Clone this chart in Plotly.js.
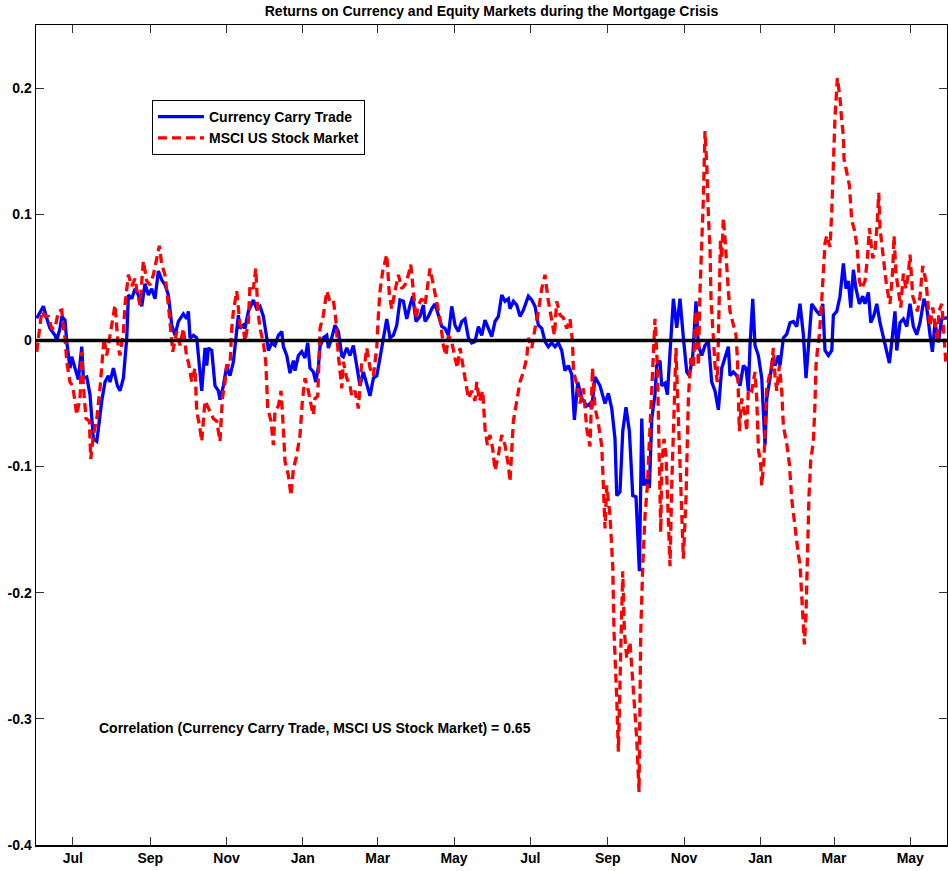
<!DOCTYPE html>
<html>
<head>
<meta charset="utf-8">
<script src="https://cdn.plot.ly/plotly-3.0.1.min.js"></script>
<style>html,body{margin:0;padding:0;background:#fff}#chart{width:948px;height:871px}</style>
</head>
<body>
<div id="chart"></div>
<script>
// Day offsets counted from 2007-07-01, and returns
const carryDay = [-28.8,-23.5,-20.8,-18.2,-14.2,-12.8,-10.2,-8.8,-6.2,-4.8,-2.2,-0.8,1.8,4.5,7.2,8.5,11.2,13.8,16.5,19.2,20.5,23.2,25.8,28.5,29.8,32.5,35.7,37.8,40.5,43.2,44.5,47.2,49.8,52.5,55.2,57.8,60.5,63.2,65.8,68.5,71.2,73.8,76.5,79.2,81.8,84.5,88.5,91.2,92.5,93.8,96.5,99.2,103.2,105.8,107.2,108.5,111.2,113.8,116.5,117.8,120.5,123.2,124.5,125.8,128.5,131.2,132.5,133.8,136.5,137.8,140.5,144.5,147.2,149.8,152.5,155.2,156.5,159.2,161.8,164.5,167.2,168.5,171.2,173.8,176.5,177.8,180.5,183.2,185.8,188.0,189.8,192.5,194.4,196.5,197.8,200.5,203.2,204.5,207.2,209.8,212.5,215.2,216.5,219.2,221.8,224.5,227.2,229.8,232.5,235.2,237.8,240.5,243.2,245.8,248.5,251.2,253.8,256.5,259.2,261.8,264.5,267.2,269.8,272.0,274.6,277.8,280.5,281.8,284.5,287.2,289.8,292.5,295.2,297.8,300.5,303.2,305.8,308.5,311.2,313.8,316.5,319.2,321.8,324.5,327.2,329.8,332.5,335.2,337.8,340.5,343.2,345.8,348.5,349.8,352.5,355.2,357.8,360.5,364.5,367.2,369.8,372.5,375.2,377.8,380.5,383.2,385.8,388.5,391.2,393.8,396.5,399.2,401.3,404.0,407.2,411.2,413.8,415.2,417.8,421.8,425.8,428.5,431.2,433.8,435.2,437.8,440.0,442.6,445.3,448.0,450.6,453.3,455.2,457.0,459.2,461.3,463.2,465.8,467.2,469.8,471.2,473.8,475.7,477.8,480.5,483.2,485.8,488.5,491.2,493.3,496.0,498.6,500.5,503.2,505.8,508.5,511.2,513.8,516.5,519.2,521.8,524.5,525.8,528.5,531.2,533.8,536.5,538.6,540.5,541.8,544.0,545.8,548.5,551.2,553.8,555.2,557.8,560.0,561.8,564.5,565.8,568.5,571.2,573.8,576.5,579.2,581.8,584.5,586.6,588.5,591.2,595.2,597.8,600.0,601.8,604.5,607.2,608.5,611.2,613.8,616.5,618.6,620.5,622.4,624.5,626.6,629.3,632.0,633.8,636.5,638.4,641.0,643.2,645.8,648.5,651.2,653.3,655.2,657.8,659.2,661.8,664.5,667.2,669.8,672.5,675.2,677.8,681.0,683.2,685.8,687.7,689.8,692.5,695.2,697.8,699.4];
const carryRet = [0.0175,0.027,0.0175,0.0095,0.004,0.000,0.0095,0.019,0.016,-0.001,-0.022,-0.013,-0.022,-0.031,-0.005,-0.030,-0.029,-0.043,-0.078,-0.080,-0.070,-0.048,-0.033,-0.028,-0.033,-0.022,-0.036,-0.040,-0.030,0.0016,0.036,0.033,0.041,0.036,0.027,0.045,0.036,0.041,0.033,0.055,0.048,0.044,0.036,0.012,0.004,0.015,0.021,0.017,0.023,0.002,0.004,0.002,-0.040,-0.006,-0.020,-0.006,-0.008,-0.036,-0.040,-0.047,-0.036,-0.020,-0.025,-0.028,-0.017,0.0095,0.020,0.0095,0.012,0.0095,0.023,0.032,0.025,0.027,0.019,0.002,-0.008,-0.002,-0.004,0.004,0.007,-0.005,-0.012,-0.026,-0.016,-0.024,-0.012,-0.009,-0.014,-0.002,-0.022,-0.025,-0.033,-0.021,-0.005,0.002,0.004,-0.006,0.002,0.012,0.007,-0.012,-0.013,-0.006,-0.012,-0.004,-0.020,-0.036,-0.025,-0.036,-0.044,-0.030,-0.028,-0.014,0.002,0.017,0.002,0.004,0.012,0.032,0.031,0.017,0.028,0.035,0.015,0.019,0.028,0.015,0.019,0.025,0.029,0.020,0.011,0.0095,0.004,0.027,0.012,0.007,0.015,0.017,0.002,-0.002,-0.001,0.011,0.004,0.016,0.0095,0.003,0.015,0.019,0.036,0.031,0.033,0.025,0.031,0.028,0.019,0.024,0.035,0.032,0.027,0.012,0.0095,-0.001,-0.005,-0.002,-0.005,-0.002,-0.008,-0.024,-0.020,-0.027,-0.063,-0.033,-0.046,-0.052,-0.050,-0.054,-0.029,-0.036,-0.050,-0.042,-0.054,-0.078,-0.123,-0.120,-0.072,-0.053,-0.072,-0.123,-0.124,-0.183,-0.062,-0.115,-0.110,-0.117,-0.062,-0.043,-0.020,-0.016,-0.036,-0.034,-0.043,-0.009,0.033,0.010,0.033,0.002,-0.025,-0.028,-0.012,0.031,-0.004,-0.012,-0.004,-0.001,-0.033,-0.040,-0.055,-0.022,-0.014,-0.005,-0.028,-0.025,-0.028,-0.036,-0.020,-0.022,-0.040,-0.004,0.033,-0.004,-0.012,-0.030,-0.083,-0.046,-0.030,-0.014,-0.020,-0.012,-0.020,0.002,0.005,0.014,0.015,0.011,0.029,0.0045,-0.030,-0.008,0.029,0.023,0.020,0.029,-0.008,-0.012,-0.008,0.020,0.023,0.035,0.061,0.041,0.047,0.026,0.056,0.041,0.029,0.035,0.029,0.038,0.014,0.020,0.029,0.014,0.0015,-0.008,-0.018,-0.0015,0.023,-0.008,0.014,0.017,0.011,0.029,0.011,0.0045,0.014,0.033,0.026,0.0045,-0.009,0.014,-0.0015,0.017,0.018,0.018];

const msciDay = [-28.8,-26.2,-24.8,-22.2,-19.5,-16.8,-14.2,-11.5,-8.8,-7.5,-6.2,-4.8,-2.2,0,1.8,3.2,5.8,7.2,8.5,10.6,13.3,14.4,16.5,19.2,21.8,23.2,25.0,27.2,29.8,32.5,33.8,36.5,37.8,40.5,41.8,44.5,47.2,49.8,51.2,53.8,56.5,59.2,61.8,64.5,67.2,69.3,71.2,73.8,76.5,77.8,80.0,83.2,85.8,88.5,91.2,92.5,95.2,97.8,99.2,101.8,103.2,105.8,108.5,112.5,115.2,117.8,119.7,121.8,123.2,125.8,127.2,128.5,131.2,133.8,136.5,137.8,140.5,141.8,144.5,146.4,148.0,149.8,152.5,154.4,156.0,158.6,160.5,161.8,164.5,166.6,168.5,169.8,172.5,174.6,176.5,179.2,181.8,183.7,185.8,188.5,191.2,192.5,193.8,196.0,197.8,200.5,203.2,205.8,208.5,210.4,212.5,215.2,216.5,219.2,221.8,223.2,225.8,228.5,231.2,233.8,235.2,237.8,240.5,243.2,244.5,245.8,248.0,251.2,253.3,255.2,257.8,260.5,263.2,265.8,268.5,270.4,272.5,274.6,276.5,279.2,281.8,283.7,285.8,288.5,291.2,293.8,296.5,298.6,300.5,303.2,305.8,307.7,309.8,312.5,315.2,316.5,319.2,321.8,323.2,325.3,328.0,329.8,331.7,333.8,336.0,337.8,340.5,343.2,345.8,348.5,349.8,352.5,355.2,357.8,360.5,363.2,364.5,367.2,369.8,372.5,375.2,377.8,380.5,383.2,385.3,387.2,389.8,392.5,395.2,397.8,399.8,400.6,403.2,405.8,408.5,411.2,413.8,415.8,417.8,420.5,423.2,424.5,425.8,427.2,429.8,432.0,433.0,435.2,436.5,437.8,440.0,441.3,443.2,445.8,448.0,451.2,453.0,454.4,456.0,457.8,459.7,461.8,464.0,465.8,467.7,469.0,470.4,471.2,473.0,474.6,476.5,477.8,479.2,480.5,482.6,483.7,485.8,487.2,488.5,490.6,492.5,494.4,496.5,498.6,500.5,501.8,503.2,504.5,505.8,507.2,508.5,509.8,510.6,512.0,513.8,515.7,517.3,518.2,519.2,520.5,521.8,523.2,524.5,525.8,528.5,530.6,531.7,532.5,533.3,535.2,537.8,539.2,540.5,543.2,545.8,547.2,548.5,550.4,551.2,553.0,555.2,557.3,559.2,560.5,561.8,563.2,565.3,567.2,568.5,571.2,573.3,575.2,577.8,580.5,581.8,583.2,585.3,586.6,587.7,589.0,590.4,592.5,593.8,594.6,595.7,597.3,599.2,600.5,601.8,603.2,605.8,607.2,608.5,609.8,611.7,613.8,615.2,616.5,617.0,619.2,621.3,623.2,625.8,627.7,629.3,631.2,633.8,635.7,637.3,640.0,641.8,643.7,644.8,645.8,648.5,650.6,652.5,653.8,656.0,657.0,658.6,660.5,662.4,664.5,666.6,668.5,669.8,672.0,673.8,675.7,677.8,680.0,682.6,684.5,685.8,688.0,689.8,691.7,692.9,695.2,696.5,698.6];
const msciRet = [-0.009,0.0095,0.023,0.019,0.019,0.0095,0.0095,0.023,0.024,0.0095,0.002,-0.017,-0.033,-0.036,-0.048,-0.059,-0.046,-0.009,-0.036,-0.062,-0.064,-0.094,-0.075,-0.062,-0.038,-0.020,0.002,-0.012,0.004,0.017,0.028,-0.006,-0.012,0.007,0.028,0.052,0.043,0.049,0.040,0.028,0.063,0.047,0.044,0.052,0.065,0.075,0.060,0.052,0.028,0.015,-0.009,0.007,-0.004,0.0095,-0.014,-0.017,-0.033,-0.022,-0.056,-0.070,-0.080,-0.048,-0.054,-0.062,-0.064,-0.080,-0.046,-0.033,-0.020,-0.020,0.0095,0.023,0.039,0.012,0.0095,-0.001,0.015,0.044,0.041,0.057,0.025,0.0095,-0.002,-0.017,-0.054,-0.064,-0.083,-0.056,-0.052,-0.040,-0.070,-0.096,-0.107,-0.123,-0.102,-0.091,-0.075,-0.048,-0.030,-0.040,-0.054,-0.059,-0.046,-0.044,0.0095,0.020,0.039,0.031,0.032,0.017,-0.012,-0.038,-0.017,-0.030,-0.036,-0.044,-0.040,-0.054,-0.017,-0.017,-0.006,-0.022,-0.028,-0.006,0.020,0.039,0.055,0.068,0.036,0.025,0.039,0.052,0.041,0.044,0.052,0.060,0.039,0.017,0.028,0.033,0.028,0.041,0.057,0.044,0.031,0.017,-0.004,-0.012,0.004,-0.001,-0.014,-0.022,-0.006,-0.022,-0.036,-0.046,-0.040,-0.048,-0.033,-0.048,-0.040,-0.070,-0.083,-0.075,-0.086,-0.103,-0.091,-0.075,-0.083,-0.099,-0.112,-0.064,-0.048,-0.033,-0.025,-0.014,0.002,-0.006,0.0095,0.023,0.041,0.052,0.031,0.015,0.004,0.031,0.020,0.018,0.0095,0.017,-0.001,-0.025,-0.034,-0.050,-0.038,-0.070,-0.084,-0.022,-0.053,-0.066,-0.084,-0.115,-0.149,-0.115,-0.139,-0.179,-0.231,-0.284,-0.326,-0.271,-0.183,-0.231,-0.252,-0.239,-0.274,-0.316,-0.358,-0.231,-0.179,-0.139,-0.115,-0.072,-0.033,0.017,-0.020,-0.078,-0.152,-0.099,-0.078,-0.091,-0.139,-0.179,-0.115,-0.072,-0.006,-0.040,-0.099,-0.123,-0.173,-0.125,-0.046,-0.014,-0.020,0.023,-0.020,0.039,0.071,0.113,0.166,0.139,0.099,0.073,0.033,0.007,-0.020,-0.033,0.028,0.079,0.065,0.097,0.081,0.055,0.039,0.023,0.012,0.004,-0.014,-0.052,-0.072,-0.046,-0.059,-0.072,-0.038,-0.040,-0.025,-0.046,-0.086,-0.099,-0.115,-0.094,-0.038,-0.028,-0.020,-0.006,-0.028,-0.040,-0.020,-0.040,-0.068,-0.082,-0.098,-0.126,-0.150,-0.170,-0.177,-0.208,-0.241,-0.217,-0.165,-0.123,-0.095,-0.080,-0.050,-0.020,-0.008,0.0045,0.032,0.059,0.077,0.083,0.074,0.102,0.138,0.177,0.208,0.192,0.174,0.162,0.144,0.132,0.123,0.095,0.086,0.071,0.047,0.041,0.047,0.065,0.089,0.065,0.071,0.095,0.117,0.089,0.062,0.047,0.035,0.029,0.056,0.083,0.053,0.038,0.026,0.053,0.041,0.053,0.068,0.035,0.029,0.023,0.035,0.059,0.047,0.029,0.011,0.026,0.011,-0.0015,0.023,0.029,0.011,-0.020];

const yTickVals = [0.2, 0.1, 0, -0.1, -0.2, -0.3, -0.4];
const yTickText = ['0.2', '0.1', '0', '-0.1', '-0.2', '-0.3', '-0.4'];
const seriesNames = ['Currency Carry Trade', 'MSCI US Stock Market'];
const titleText = 'Returns on Currency and Equity Markets during the Mortgage Crisis';
const noteText = 'Correlation (Currency Carry Trade, MSCI US Stock Market) = 0.65';
const dayRange = [-29.4, 699.4];

const ORIGIN = Date.UTC(2007, 6, 1);
function toDate(d) {
  return new Date(ORIGIN + d * 86400000).toISOString().replace('T', ' ').replace('Z', '');
}

const FONT = {family: 'Liberation Sans, Arial, sans-serif', size: 14, color: '#000', weight: 'bold'};

const traces = [
  {x: carryDay.map(toDate), y: carryRet, type: 'scatter', mode: 'lines', name: seriesNames[0],
   line: {color: '#0000ff', width: 3.3}},
  {x: msciDay.map(toDate), y: msciRet, type: 'scatter', mode: 'lines', name: seriesNames[1],
   line: {color: '#ff0000', width: 3.3, dash: '9px,5px'}}
];

const layout = {
  width: 948, height: 871,
  margin: {l: 36, r: 1, t: 25, b: 26, pad: 0},
  paper_bgcolor: '#fff', plot_bgcolor: '#fff',
  font: FONT,
  showlegend: true,
  title: {text: titleText, font: FONT, x: 0.5, xref: 'paper', y: 1 - 11 / 871, yref: 'container', yanchor: 'middle'},
  xaxis: {
    type: 'date', range: dayRange.map(toDate),
    tick0: '2007-07-01', dtick: 'M2', tickformat: '%b',
    ticks: 'inside', ticklen: 8, tickwidth: 1, tickcolor: '#333',
    showline: true, linecolor: '#000', linewidth: 1.5, mirror: 'ticks',
    showgrid: false, zeroline: false, tickfont: FONT
  },
  yaxis: {
    range: [-0.4, 0.25], tickmode: 'array', tickvals: yTickVals, ticktext: yTickText,
    ticks: 'inside', ticklen: 8, tickwidth: 1, tickcolor: '#333',
    showline: true, linecolor: '#000', linewidth: 1.5, mirror: 'ticks',
    showgrid: false, zeroline: false, tickfont: FONT
  },
  legend: {
    x: 0.1273, y: 0.9085, xanchor: 'left', yanchor: 'top',
    bgcolor: '#fff', bordercolor: '#000', borderwidth: 1,
    font: FONT, itemwidth: 46, tracegroupgap: 0
  },
  shapes: [{type: 'line', xref: 'paper', x0: 0, x1: 1, yref: 'y', y0: 0, y1: 0,
            line: {color: '#000', width: 3.5}, layer: 'above'}],
  annotations: [{text: noteText, xref: 'paper', yref: 'paper', x: 0.067, y: 0.1427,
                 xanchor: 'left', yanchor: 'middle', showarrow: false, font: FONT}]
};

Plotly.newPlot('chart', traces, layout, {displayModeBar: false, staticPlot: true});
</script>
</body>
</html>
